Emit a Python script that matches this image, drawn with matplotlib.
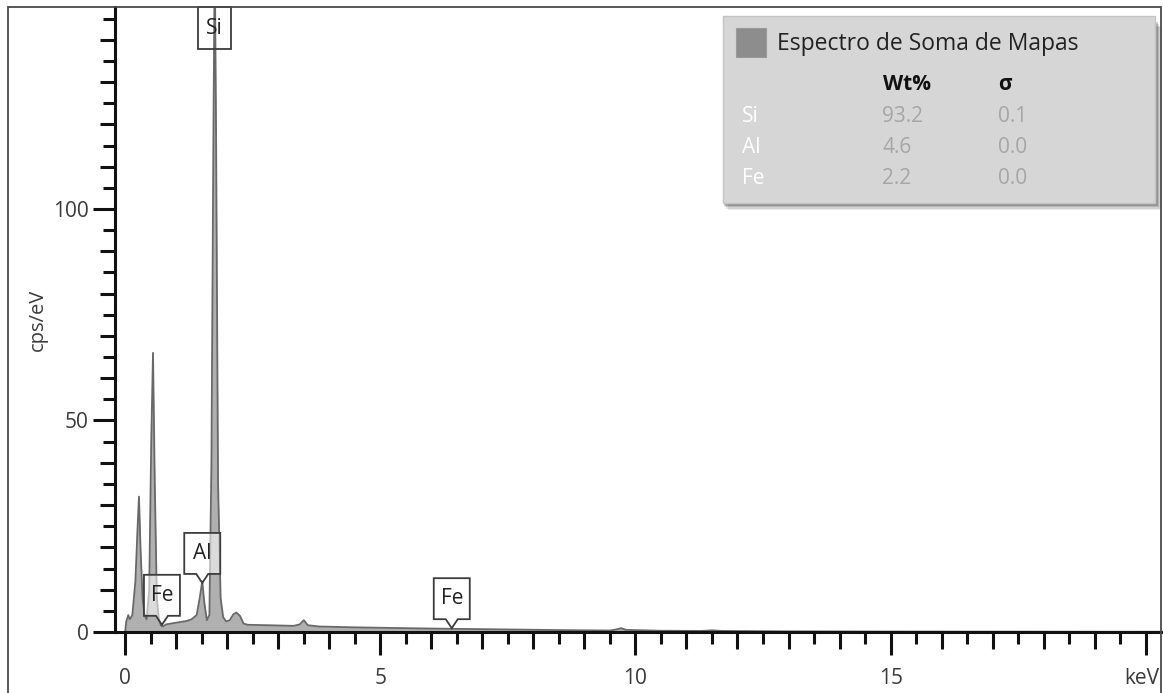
import matplotlib
matplotlib.use('Agg')
import matplotlib.pyplot as plt
import matplotlib.transforms as mtransforms
from matplotlib.patches import Polygon, Rectangle
import numpy as np

# EDS sum spectrum, vertices (keV, cps/eV)
energy = [0.00, 0.02, 0.06, 0.09, 0.14, 0.20, 0.24, 0.27, 0.30, 0.34, 0.38, 0.42,
          0.47, 0.51, 0.545, 0.58, 0.62, 0.66, 0.70, 0.74, 0.80, 0.90, 1.00, 1.10,
          1.20, 1.30, 1.40, 1.46, 1.51, 1.55, 1.60, 1.65, 1.69, 1.73, 1.755, 1.78,
          1.82, 1.87, 1.92, 1.98, 2.05, 2.12, 2.18, 2.25, 2.32, 2.40, 2.80, 3.30,
          3.42, 3.50, 3.58, 3.80, 4.50, 5.50, 6.40, 7.50, 8.50, 9.50, 9.62, 9.72,
          9.82, 10.5, 11.3, 11.5, 11.7, 13.0, 15.0, 20.3]
counts = [0.0, 2.5, 4.0, 3.0, 4.0, 12.0, 24.0, 32.0, 20.0, 8.0, 4.0, 3.0,
          10.0, 45.0, 66.0, 35.0, 8.0, 3.0, 1.6, 1.3, 1.8, 2.0, 2.2, 2.4,
          2.6, 3.0, 4.0, 8.0, 12.0, 7.0, 2.8, 4.0, 40.0, 120.0, 160.0, 120.0,
          35.0, 8.0, 3.5, 2.5, 2.8, 4.2, 4.6, 3.8, 2.0, 1.7, 1.6, 1.45,
          1.8, 2.8, 1.6, 1.3, 1.1, 0.9, 0.75, 0.6, 0.45, 0.35, 0.6, 0.9,
          0.5, 0.3, 0.25, 0.4, 0.25, 0.15, 0.1, 0.05]

# peak markers
peak_names = ['Si', 'Al', 'Fe', 'Fe']
peak_kev = [1.755, 1.51, 0.72, 6.40]
peak_tip = [None, 11.6, 1.7, 0.9]

# quantification table
elements = ['Si', 'Al', 'Fe']
wt_pct = [93.2, 4.6, 2.2]
sigma = [0.1, 0.0, 0.0]

W, H = 1163, 693
plt.rcParams['font.family'] = ['Open Sans', 'DejaVu Sans']

fig = plt.figure(figsize=(W / 100, H / 100), dpi=100)
ax = fig.add_axes([115 / W, 1 - 632 / H, 1046 / W, 625 / H])

ax.fill_between(energy, counts, color='#b0b0b0', lw=0, zorder=1)
ax.plot(energy, counts, color='#686868', lw=1.3, zorder=2)

ax.set_xlim(-0.2, 20.3)
ax.set_ylim(0, 147.75)

for s in ['top', 'right']:
    ax.spines[s].set_visible(False)
for s in ['left', 'bottom']:
    ax.spines[s].set_linewidth(2.2)
    ax.spines[s].set_color('#111111')

tick_col = '#3a3a3a'
ax.set_xticks([0, 5, 10, 15, 20], ['0', '5', '10', '15', 'keV'])
ax.set_xticks([i for i in range(1, 21) if i % 5], minor=True)
ax.set_yticks([0, 50, 100])
ax.set_yticks([i for i in range(10, 150, 10) if i % 50], minor=True)
ax.tick_params(axis='x', which='major', length=16.6, width=2.2, color='#111111',
               labelsize=15, labelcolor=tick_col, pad=9)
ax.tick_params(axis='x', which='minor', length=12.2, width=2.2, color='#111111')
ax.tick_params(axis='y', which='major', length=15.8, width=2.2, color='#111111',
               labelsize=15, labelcolor=tick_col, pad=3)
ax.tick_params(axis='y', which='minor', length=10.8, width=2.2, color='#111111')

# nudge the unit label so it stays inside the frame
kev_lab = ax.get_xticklabels()[-1]
kev_lab.set_transform(kev_lab.get_transform() +
                      mtransforms.ScaledTranslation(-4 / 100, 0, fig.dpi_scale_trans))

# third, shortest tick level
secx = ax.secondary_xaxis('bottom')
secx.set_xticks(np.arange(0.5, 20.5, 1.0))
secx.tick_params(length=8.6, width=2.2, color='#111111', labelbottom=False)
secx.spines['bottom'].set_visible(False)
secy = ax.secondary_yaxis('left')
secy.set_yticks(np.arange(5, 150, 10))
secy.tick_params(length=8.6, width=2.2, color='#111111', labelleft=False)
secy.spines['left'].set_visible(False)

fig.text(38 / W, 1 - 320 / H, 'cps/eV', rotation=90, ha='center', va='center',
         fontsize=14.5, color=tick_col)


def callout(x, y, text, w, h, gap):
    # box sizes in pixels, anchored at a data point
    trans = fig.dpi_scale_trans + mtransforms.ScaledTranslation(x, y, ax.transData)
    if gap is None:
        verts = [(-w / 2, 0), (w / 2, 0), (w / 2, -h), (-w / 2, -h)]
        ty = -h / 2
        fc = 'none'
    else:
        verts = [(-w / 2, gap), (-6, gap), (0, 0), (6, gap), (w / 2, gap),
                 (w / 2, gap + h), (-w / 2, gap + h)]
        ty = gap + h / 2
        fc = (1, 1, 1, 0.55)
    verts = [(a / 100, b / 100) for a, b in verts]
    ax.add_patch(Polygon(verts, closed=True, transform=trans, fc=fc,
                         ec='#3c3c3c', lw=1.3, zorder=4, clip_on=False))
    ax.text(0, ty / 100, text, transform=trans, ha='center', va='center',
            fontsize=15, color='#222222', zorder=5)


for name, xk, tip in zip(peak_names, peak_kev, peak_tip):
    if tip is None:
        callout(xk, ax.get_ylim()[1], name, 33, 42, None)
    else:
        callout(xk, tip, name, 36, 41, 9)

# legend / result panel
def px(x, y):
    return x / W, 1 - y / H

for i, a in enumerate([0.10, 0.13, 0.17, 0.24]):
    off = 7 - i * 1.5
    x0, y0 = px(723 + off - 2, 203 + off)
    x1, y1 = px(1155 + off, 16 + off + 4)
    fig.patches.append(Rectangle((x0, y0), x1 - x0, y1 - y0, transform=fig.transFigure,
                                 fc='#303030', ec='none', alpha=a, zorder=1))
x0, y0 = px(723, 203)
x1, y1 = px(1155, 16)
fig.patches.append(Rectangle((x0, y0), x1 - x0, y1 - y0, transform=fig.transFigure,
                             fc='#d6d6d6', ec='#c4c4c4', lw=1, zorder=2))
x0, y0 = px(736, 57)
x1, y1 = px(766, 28)
fig.patches.append(Rectangle((x0, y0), x1 - x0, y1 - y0, transform=fig.transFigure,
                             fc='#8d8d8d', ec='#9a9a9a', lw=0.8, zorder=2))

fig.text(*px(777, 44), 'Espectro de Soma de Mapas', ha='left', va='center',
         fontsize=16.5, color='#222222', zorder=3)
fig.text(*px(883, 85), 'Wt%', ha='left', va='center', fontsize=15,
         fontweight='bold', color='#111111', zorder=3)
fig.text(*px(998, 85), 'σ', ha='left', va='center', fontsize=15,
         fontweight='bold', color='#111111', zorder=3)
for i, el in enumerate(elements):
    yy = 117 + i * 30.5
    fig.text(*px(742, yy), el, ha='left', va='center', fontsize=15,
             color='white', zorder=3)
    fig.text(*px(882, yy), f'{wt_pct[i]:.1f}', ha='left', va='center',
             fontsize=15, color='#a6a6a6', zorder=3)
    fig.text(*px(998, yy), f'{sigma[i]:.1f}', ha='left', va='center',
             fontsize=15, color='#a6a6a6', zorder=3)

# outer frame
fig.patches.append(Rectangle((8 / W, -0.05), (1161 - 8) / W, 1 - 7 / H + 0.05,
                             transform=fig.transFigure, fill=False, ec='#4a4a4a',
                             lw=1.3, zorder=5))

fig.savefig('out.png', dpi=100, facecolor='white')
